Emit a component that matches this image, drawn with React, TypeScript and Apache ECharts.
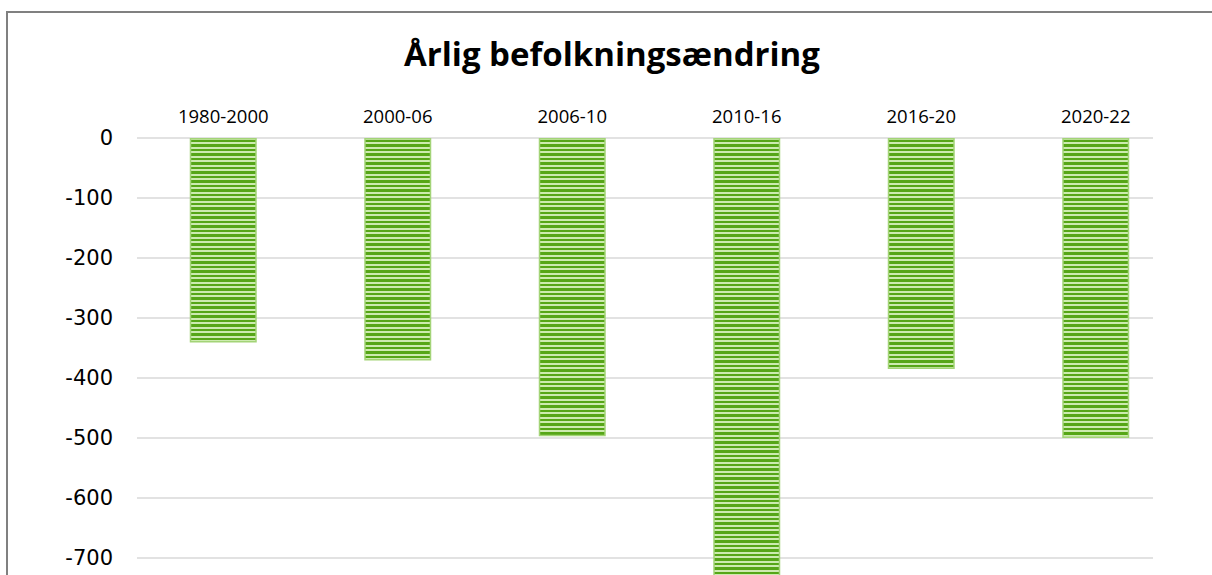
import React, { useEffect, useRef } from "react";
import * as echarts from "echarts";

const categories = ["1980-2000", "2000-06", "2006-10", "2010-16", "2016-20", "2020-22"];
const values = [-341, -371, -497, -780, -385, -500];
const yTicks = [0, -100, -200, -300, -400, -500, -600, -700];
const titleText = "Årlig befolkningsændring";

function makeStripe(): string {
  const c = document.createElement("canvas");
  c.width = 4;
  c.height = 9;
  const ctx = c.getContext("2d")!;
  ctx.fillStyle = "#cdebb0";
  ctx.fillRect(0, 0, 4, 9);
  ctx.fillStyle = "#56a617";
  ctx.fillRect(0, 0, 4, 3);
  ctx.fillRect(0, 5, 4, 2);
  return c.toDataURL();
}

export default function App() {
  const ref = useRef<HTMLDivElement>(null);
  useEffect(() => {
    if (!ref.current) return;
    const chart = echarts.init(ref.current, null, { renderer: "svg" });
    const stripe = makeStripe();
    const H = 700;
    const top = 138;
    const bottom = H - (top + 480);
    chart.setOption({
      animation: false,
      backgroundColor: "#ffffff",
      title: {
        text: titleText,
        left: 399,
        top: 32,
        textStyle: {
          fontFamily: "Open Sans",
          fontWeight: "bold",
          fontSize: 33,
          color: "#000000",
        },
      },
      graphic: [
        {
          type: "rect",
          shape: { x: 7, y: 12, width: 1400, height: 900 },
          style: { fill: "none", stroke: "#808080", lineWidth: 2 },
          silent: true,
          z: 100,
        },
      ],
      grid: [
        { left: 136, right: 29, top, bottom },
        { left: 137, right: 59, top, bottom },
      ],
      xAxis: [
        {
          type: "category",
          gridIndex: 0,
          data: categories,
          position: "top",
          axisLine: { show: false },
          axisTick: { show: false },
          axisLabel: {
            margin: 13,
            fontFamily: "Open Sans",
            fontSize: 18.5,
            color: "#000000",
          },
        },
        { type: "value", gridIndex: 1, show: false, min: 0, max: 1 },
      ],
      yAxis: [
        {
          type: "value",
          gridIndex: 0,
          min: -800,
          max: 0,
          interval: 100,
          show: false,
          splitLine: { show: false },
        },
        {
          type: "value",
          gridIndex: 1,
          min: -800,
          max: 0,
          interval: 100,
          axisLine: { show: false },
          axisTick: { show: false },
          axisLabel: {
            margin: 24,
            fontFamily: "DejaVu Sans",
            fontSize: 21,
            color: "#000000",
            formatter: (v: number) => (yTicks.indexOf(v) >= 0 ? String(v) : ""),
          },
          splitLine: { lineStyle: { color: "#d9d9d9", width: 1.5 } },
        },
      ],
      series: [
        {
          type: "bar",
          xAxisIndex: 0,
          yAxisIndex: 0,
          data: values,
          barWidth: 67,
          z: 3,
          itemStyle: {
            color: { image: stripe, repeat: "repeat", imageWidth: 4, imageHeight: 9 } as any,
            borderColor: "#a3d477",
            borderWidth: 1.5,
          },
        },
      ],
    });
    return () => chart.dispose();
  }, []);
  return (
    <div
      style={{
        position: "fixed",
        left: 0,
        top: 0,
        width: 1212,
        height: 575,
        overflow: "hidden",
        background: "#fff",
      }}
    >
      <div ref={ref} style={{ width: 1212, height: 700 }} />
    </div>
  );
}
